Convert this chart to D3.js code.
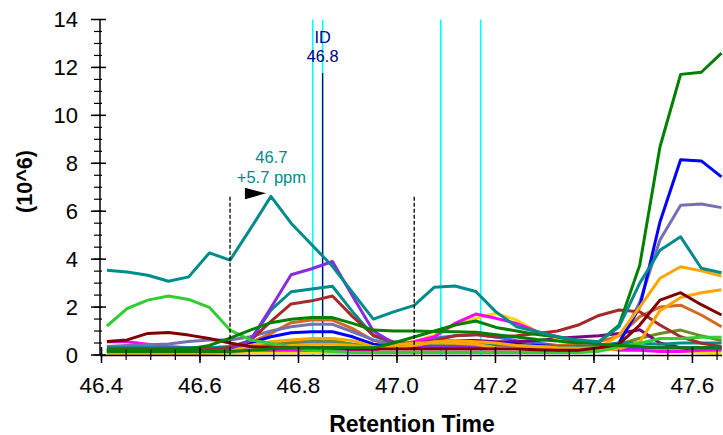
<!DOCTYPE html>
<html><head><meta charset="utf-8">
<script src="https://cdn.jsdelivr.net/npm/d3@7"></script>
<style>body{margin:0;background:#fff} svg{display:block;font-family:"Liberation Sans",Arial,sans-serif}</style>
</head><body>
<svg id="c" width="723" height="435"></svg>
<script>
// Retention times (minutes)
const times = [46.411,46.452,46.494,46.536,46.577,46.619,46.661,46.702,46.744,46.785,46.827,46.869,46.910,46.952,46.993,47.035,47.076,47.118,47.160,47.201,47.243,47.285,47.326,47.368,47.410,47.451,47.493,47.534,47.576,47.618,47.659];

// Intensities (10^6)
const royalblue = [0.3,0.3,0.3,0.3,0.3,0.3,0.3,0.35,0.4,0.45,0.5,0.5,0.45,0.35,0.35,0.5,0.7,0.8,0.85,0.75,0.6,0.5,0.4,0.35,0.3,0.3,0.3,0.3,0.3,0.3,0.3];
const olivedrab = [0.2,0.2,0.2,0.2,0.2,0.2,0.25,0.35,0.5,0.55,0.6,0.6,0.45,0.3,0.3,0.3,0.3,0.3,0.3,0.3,0.3,0.3,0.3,0.3,0.3,0.45,0.7,0.9,1.04,0.8,0.6];
const purple = [0.15,0.15,0.15,0.15,0.15,0.15,0.15,0.2,0.25,0.3,0.3,0.3,0.3,0.3,0.35,0.4,0.55,0.6,0.6,0.55,0.55,0.6,0.7,0.75,0.8,0.9,1.05,0.5,0.3,0.2,0.25];
const gold = [0.08,0.08,0.08,0.08,0.08,0.08,0.08,0.1,0.1,0.1,0.1,0.1,0.12,0.25,0.42,0.56,0.83,1.25,1.53,1.74,1.46,0.97,0.69,0.42,0.3,0.25,0.2,0.2,0.15,0.1,0.05];
const magenta = [0.55,0.55,0.45,0.35,0.3,0.25,0.2,0.2,0.2,0.2,0.2,0.2,0.2,0.2,0.4,0.55,0.76,1.32,1.71,1.53,1.32,0.97,0.76,0.56,0.4,0.2,0.2,0.15,0.15,0.2,0.2];
const chocolate = [0.2,0.2,0.2,0.2,0.2,0.2,0.25,0.5,0.9,1.35,1.46,1.46,1.1,0.6,0.45,0.4,0.4,0.4,0.4,0.4,0.4,0.4,0.4,0.45,0.55,0.8,1.6,2.0,2.08,1.67,1.18];
const slate = [0.35,0.4,0.43,0.46,0.56,0.63,0.63,0.76,1.0,1.18,1.28,1.28,0.97,0.63,0.42,0.4,0.5,0.55,0.5,0.45,0.4,0.35,0.35,0.35,0.35,0.5,2.2,4.8,6.25,6.3,6.15];
const blue = [0.2,0.2,0.2,0.2,0.2,0.2,0.25,0.5,0.76,0.93,0.97,0.97,0.76,0.45,0.35,0.35,0.45,0.5,0.5,0.5,0.45,0.4,0.35,0.3,0.3,0.5,2.0,5.55,8.15,8.1,7.43];
const teal2 = [0.3,0.3,0.3,0.3,0.3,0.3,0.35,0.6,1.87,2.64,2.75,2.87,1.8,0.8,0.5,0.45,0.45,0.45,0.45,0.4,0.4,0.35,0.35,0.35,0.4,0.5,0.5,0.45,0.5,0.5,0.5];
const brown = [0.25,0.25,0.25,0.25,0.25,0.25,0.3,0.6,1.4,2.13,2.26,2.46,1.6,0.83,0.55,0.46,0.6,0.8,0.85,0.75,0.8,0.9,1.0,1.25,1.65,1.88,1.8,1.25,0.76,0.49,0.35];
const blueviolet = [0.15,0.15,0.15,0.15,0.15,0.15,0.2,0.6,1.97,3.35,3.6,3.9,2.45,1.0,0.5,0.4,0.35,0.35,0.3,0.3,0.3,0.3,0.25,0.25,0.25,0.25,0.3,0.3,0.3,0.3,0.3];
const orange2 = [0.05,0.05,0.05,0.05,0.05,0.05,0.1,0.2,0.3,0.4,0.45,0.45,0.4,0.3,0.42,0.5,0.5,0.49,0.45,0.3,0.28,0.25,0.2,0.2,0.2,0.25,0.55,1.85,2.4,2.6,2.72];
const orange1 = [0.1,0.1,0.1,0.1,0.1,0.1,0.15,0.4,0.55,0.63,0.69,0.69,0.6,0.35,0.3,0.4,0.55,0.6,0.55,0.5,0.4,0.35,0.3,0.28,0.3,0.83,2.0,3.2,3.68,3.51,3.29];
const limegreen = [1.21,1.94,2.29,2.46,2.32,1.99,1.04,0.63,0.49,0.3,0.2,0.15,0.1,0.1,0.1,0.1,0.1,0.1,0.1,0.1,0.1,0.1,0.1,0.1,0.15,0.35,0.49,0.69,0.69,0.74,0.74];
const maroon = [0.56,0.63,0.9,0.94,0.83,0.69,0.5,0.35,0.3,0.3,0.3,0.3,0.25,0.25,0.25,0.25,0.25,0.25,0.25,0.25,0.25,0.22,0.2,0.2,0.3,0.45,1.25,2.29,2.6,2.1,1.67];
const green2 = [0.15,0.15,0.15,0.15,0.15,0.15,0.15,0.2,0.25,0.3,0.3,0.3,0.3,0.3,0.5,0.75,1.0,1.25,1.42,1.15,1.0,0.85,0.75,0.6,0.45,0.4,0.35,0.3,0.3,0.3,0.3];
const green1 = [0.22,0.22,0.22,0.22,0.25,0.4,0.7,1.04,1.35,1.49,1.56,1.56,1.32,1.04,1.0,1.0,0.98,0.97,0.95,0.85,0.75,0.65,0.58,0.5,0.55,1.25,3.75,8.68,11.71,11.8,12.6];
const teal1 = [3.54,3.46,3.33,3.08,3.26,4.26,3.96,5.25,6.62,5.5,4.6,3.7,2.6,1.5,1.8,2.07,2.83,2.88,2.65,1.8,1.18,0.97,0.76,0.63,0.55,1.18,3.0,4.37,4.93,3.62,3.43];

const seriesList = [royalblue, olivedrab, purple, gold, magenta, chocolate, slate, blue, teal2, brown, blueviolet, orange2, orange1, limegreen, maroon, green2, green1, teal1];
const seriesColors = ["#4169E1","#6B8E23","#800080","#FFD700","#FF00FF","#D2691E","#7570B3","#0000FF","#008B8B","#A52A2A","#8A2BE2","#FFA500","#FFA500","#32CD32","#800000","#008000","#008000","#008B8B"];

const xTicks = [46.4,46.6,46.8,47.0,47.2,47.4,47.6];
const yTicks = [0,2,4,6,8,10,12,14];
const xTickLabels = ["46.4","46.6","46.8","47.0","47.2","47.4","47.6"];
const yTickLabels = ["0","2","4","6","8","10","12","14"];

// annotations
const cyanLines = [46.829, 46.849, 47.089, 47.170];
const idTime = 46.849;
const idLabel = ["ID","46.8"];
const boundaries = [46.661, 47.035];
const boundaryTop = 6.6;
const peakTime = 46.744, peakValue = 6.62;
const peakLabel = ["46.7","+5.7 ppm"];

const svg = d3.select("#c");
const x = d3.scaleLinear().domain([46.4,47.66]).range([101.5,722]);
const y = d3.scaleLinear().domain([0,14]).range([355,19.5]);

svg.append("defs").append("clipPath").attr("id","clip")
  .append("rect").attr("x",100).attr("y",0).attr("width",623).attr("height",356);

const plot = svg.append("g").attr("clip-path","url(#clip)");

// cyan retention time lines
plot.selectAll("line.cy").data(cyanLines).join("line")
  .attr("x1",d=>x(d)).attr("x2",d=>x(d)).attr("y1",y(14)).attr("y2",y(0))
  .attr("stroke","#00FFFF").attr("stroke-width",1.6);

// ID line
plot.append("line").attr("x1",x(idTime)).attr("x2",x(idTime))
  .attr("y1",73).attr("y2",y(0)).attr("stroke","#000080").attr("stroke-width",1.3);

// chromatogram lines
const line = d3.line().x((d,i)=>x(times[i])).y(d=>y(d));
plot.selectAll("path.s").data(seriesList).join("path")
  .attr("class","s").attr("d",d=>line(d)).attr("fill","none")
  .attr("stroke",(d,i)=>seriesColors[i]).attr("stroke-width",3)
  .attr("stroke-linejoin","round");

// integration boundaries
plot.selectAll("line.b").data(boundaries).join("line")
  .attr("x1",d=>x(d)).attr("x2",d=>x(d)).attr("y1",y(boundaryTop)).attr("y2",y(0))
  .attr("stroke","#000").attr("stroke-width",1.3).attr("stroke-dasharray","4,2");

// ID label
svg.selectAll("text.id").data(idLabel).join("text")
  .attr("x",x(idTime)).attr("y",(d,i)=>42.5+i*19.2).attr("text-anchor","middle")
  .attr("font-size",16.3).attr("fill","#000080").text(d=>d);

// peak label
svg.selectAll("text.pk").data(peakLabel).join("text")
  .attr("x",x(peakTime)+0.5).attr("y",(d,i)=>y(peakValue)-33+i*19.6).attr("text-anchor","middle")
  .attr("font-size",16.5).attr("fill","#008B8B").text(d=>d);

// triangle marker
const tx = x(peakTime)-5, ty = y(peakValue)-3;
svg.append("path").attr("d",`M${tx-21},${ty-5.5} L${tx},${ty} L${tx-21},${ty+6} Z`).attr("fill","#000");

// axes
svg.append("line").attr("x1",100).attr("x2",722).attr("y1",355.5).attr("y2",355.5).attr("stroke","#000").attr("stroke-width",1.5);
svg.append("line").attr("x1",100).attr("x2",100).attr("y1",y(14)).attr("y2",356).attr("stroke","#000").attr("stroke-width",1.5);

const xMinor = x.ticks(26).filter(t=>t<=47.66);
svg.selectAll("line.xm").data(xMinor).join("line")
  .attr("x1",d=>x(d)).attr("x2",d=>x(d)).attr("y1",349.5).attr("y2",360)
  .attr("stroke","#000").attr("stroke-width",1.2);
svg.selectAll("line.xM").data(xTicks).join("line")
  .attr("x1",d=>x(d)).attr("x2",d=>x(d)).attr("y1",347).attr("y2",363)
  .attr("stroke","#000").attr("stroke-width",1.5);
svg.selectAll("text.xl").data(xTicks).join("text")
  .attr("x",d=>x(d)).attr("y",393).attr("text-anchor","middle")
  .attr("font-size",22.5).text((d,i)=>xTickLabels[i]);

const yMinor = d3.range(0,28).map(k=>k*0.5);
svg.selectAll("line.ym").data(yMinor).join("line")
  .attr("x1",94).attr("x2",102).attr("y1",d=>y(d)).attr("y2",d=>y(d))
  .attr("stroke","#000").attr("stroke-width",1.2);
svg.selectAll("line.yM").data(yTicks).join("line")
  .attr("x1",91).attr("x2",106).attr("y1",d=>y(d)).attr("y2",d=>y(d))
  .attr("stroke","#000").attr("stroke-width",1.5);
svg.selectAll("text.yl").data(yTicks).join("text")
  .attr("x",78).attr("y",d=>y(d)+7.6).attr("text-anchor","end")
  .attr("font-size",22).text((d,i)=>yTickLabels[i]);

svg.append("text").attr("x",412).attr("y",431.5).attr("text-anchor","middle")
  .attr("font-size",23).attr("font-weight","bold").text("Retention Time");
svg.append("text").attr("transform","translate(31.7,181.5) rotate(-90)").attr("text-anchor","middle")
  .attr("font-size",21.6).attr("font-weight","bold").text("(10^6)");
</script>
</body></html>
